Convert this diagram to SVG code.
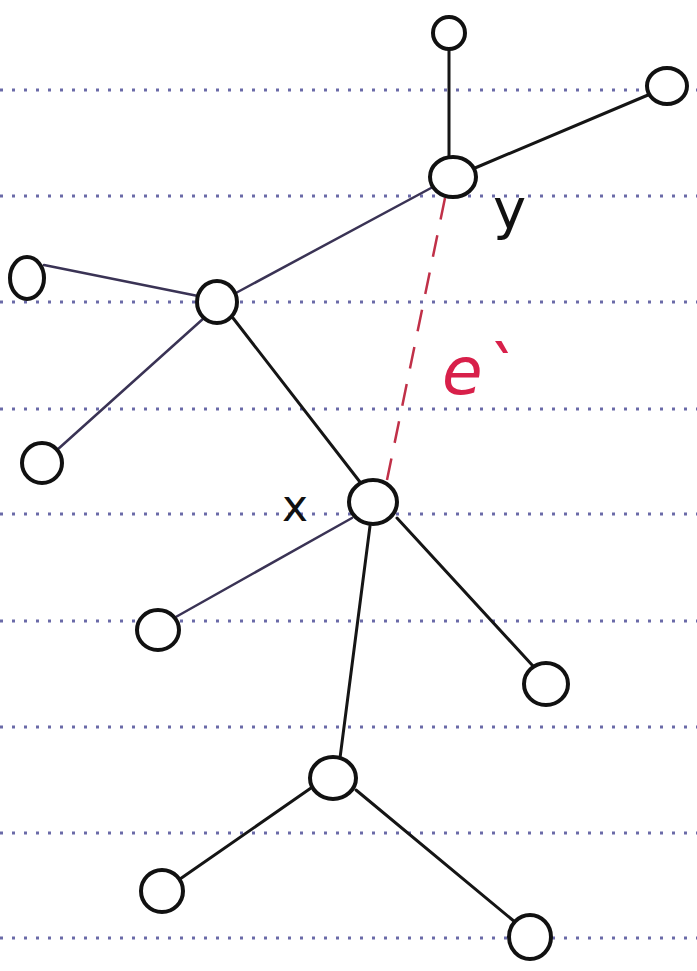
<svg xmlns="http://www.w3.org/2000/svg" width="697" height="971" viewBox="0 0 697 971">
<style>
.rule{stroke:#6a6aa8;stroke-width:3;stroke-dasharray:3 9;fill:none}
.node{fill:#fff;stroke:#111;stroke-width:4}
.edge{stroke:#151515;stroke-width:3;fill:none;stroke-linecap:round}
.thin{stroke:#3a3355;stroke-width:2.5}
.dash{stroke:#c03048;stroke-width:2.5;stroke-dasharray:22 16;fill:none}
.lbl{font-family:"DejaVu Sans","Liberation Sans",sans-serif;fill:#111}
</style>
<rect width="697" height="971" fill="#fff"/>
<g id="paper-rules">
<line class="rule" x1="0" y1="90" x2="697" y2="90"/>
<line class="rule" x1="0" y1="196" x2="697" y2="196"/>
<line class="rule" x1="0" y1="302" x2="697" y2="302"/>
<line class="rule" x1="0" y1="409" x2="697" y2="409"/>
<line class="rule" x1="0" y1="514" x2="697" y2="514"/>
<line class="rule" x1="0" y1="621" x2="697" y2="621"/>
<line class="rule" x1="0" y1="727" x2="697" y2="727"/>
<line class="rule" x1="0" y1="833" x2="697" y2="833"/>
<line class="rule" x1="0" y1="938" x2="697" y2="938"/>
</g>
<g id="connectors">
<line class="edge" x1="449" y1="49" x2="449" y2="158"/>
<line class="edge" x1="475" y1="168" x2="648" y2="95"/>
<line class="edge thin" x1="431" y1="188" x2="234" y2="294"/>
<line class="edge thin" x1="44" y1="265" x2="198" y2="296"/>
<line class="edge thin" x1="204" y1="318" x2="57" y2="450"/>
<line class="edge" x1="233" y1="318" x2="360" y2="482"/>
<line class="edge thin" x1="352" y1="518" x2="174" y2="618"/>
<line class="edge" x1="370" y1="526" x2="340" y2="758"/>
<line class="edge" x1="397" y1="518" x2="533" y2="666"/>
<line class="edge" x1="311" y1="788" x2="180" y2="879"/>
<line class="edge" x1="356" y1="790" x2="515" y2="922"/>
<line class="dash" x1="445" y1="198" x2="387" y2="480"/>
</g>
<g id="n-top"><ellipse class="node" cx="449" cy="33" rx="16" ry="16"/></g>
<g id="n-topright"><ellipse class="node" cx="667" cy="86" rx="20" ry="18"/></g>
<g id="n-y"><ellipse class="node" cx="453" cy="177" rx="23" ry="20"/><text class="lbl" x="493" y="228" font-size="56">y</text></g>
<g id="n-left"><ellipse class="node" cx="27" cy="278" rx="17" ry="21"/></g>
<g id="n-hub"><ellipse class="node" cx="217" cy="302" rx="20" ry="21"/></g>
<g id="n-lowleft"><ellipse class="node" cx="42" cy="463" rx="20" ry="20"/></g>
<g id="n-x"><ellipse class="node" cx="373" cy="502" rx="24" ry="22"/><text class="lbl" x="282" y="521" font-size="44">x</text></g>
<g id="n-xleft"><ellipse class="node" cx="158" cy="630" rx="21" ry="20"/></g>
<g id="n-xright"><ellipse class="node" cx="546" cy="684" rx="22" ry="21"/></g>
<g id="n-mid"><ellipse class="node" cx="333" cy="778" rx="23" ry="21"/></g>
<g id="n-botleft"><ellipse class="node" cx="162" cy="891" rx="21" ry="21"/></g>
<g id="n-botright"><ellipse class="node" cx="530" cy="937" rx="21" ry="22"/></g>
<g id="edge-label"><text x="442" y="394" font-family="DejaVu Sans,Liberation Sans,sans-serif" font-style="italic" font-size="66" fill="#d8204a">e`</text></g>
</svg>
